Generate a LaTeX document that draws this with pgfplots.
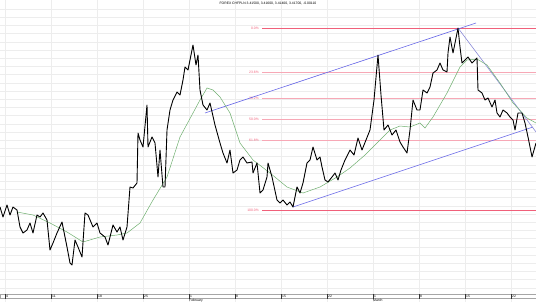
\documentclass[border=0pt]{standalone}
\usepackage{pgfplots}
\pgfplotsset{compat=1.18}
\usepackage{fontspec}
\setmainfont{Liberation Sans}
\definecolor{fibred}{HTML}{F0607A}
\definecolor{chanblue}{HTML}{6464E6}
\definecolor{trendblue}{HTML}{8C8CD8}
\definecolor{magreen}{HTML}{6FAF6F}
\newcommand{\tinyf}{\fontsize{3.4}{3.8}\selectfont}
\begin{document}
\begin{tikzpicture}
\begin{axis}[
  scale only axis, width=536bp, height=302bp,
  xmin=0, xmax=536, ymin=0, ymax=302, y dir=reverse,
  axis line style={draw=none}, tick style={draw=none},
  xtick={5,51,97,143,189,235,281,327,373,419,465,511},
  ytick={9,17.2,...,290},
  xticklabels={}, yticklabels={},
  grid=major, major grid style={gray!14, line width=0.4pt},
  clip=false,
]
% bottom band
\draw[gray!70, line width=0.4pt] (axis cs:0,294) rectangle (axis cs:536,298.5);
\pgfplotsinvokeforeach{5,51,97,143,189,235,281,327,373,419,465,511}{
  \draw[black!80, line width=0.6pt] (axis cs:#1,294) -- (axis cs:#1,298.5);
}
\node[anchor=west, inner sep=0pt, font=\tinyf] at (axis cs:6,296.3) {4};
\node[anchor=west, inner sep=0pt, font=\tinyf] at (axis cs:52,296.3) {11};
\node[anchor=west, inner sep=0pt, font=\tinyf] at (axis cs:98,296.3) {18};
\node[anchor=west, inner sep=0pt, font=\tinyf] at (axis cs:144,296.3) {25};
\node[anchor=west, inner sep=0pt, font=\tinyf] at (axis cs:190,296.3) {1};
\node[anchor=west, inner sep=0pt, font=\tinyf] at (axis cs:236,296.3) {8};
\node[anchor=west, inner sep=0pt, font=\tinyf] at (axis cs:282,296.3) {15};
\node[anchor=west, inner sep=0pt, font=\tinyf] at (axis cs:328,296.3) {22};
\node[anchor=west, inner sep=0pt, font=\tinyf] at (axis cs:374,296.3) {1};
\node[anchor=west, inner sep=0pt, font=\tinyf] at (axis cs:420,296.3) {8};
\node[anchor=west, inner sep=0pt, font=\tinyf] at (axis cs:466,296.3) {15};
\node[anchor=west, inner sep=0pt, font=\tinyf] at (axis cs:512,296.3) {22};
\node[anchor=north west, inner sep=0pt, font=\tinyf] at (axis cs:189,298.8) {February};
\node[anchor=north west, inner sep=0pt, font=\tinyf] at (axis cs:373,298.8) {March};
% title
\node[inner sep=0pt, font=\tinyf] at (axis cs:268,4) {FOREX CHFPLN 3.41500, 3.41600, 3.41400, 3.41700, -0.00110};
% fibonacci
\addplot[fibred, line width=0.6pt] coordinates {(262,28) (536,28)};
\addplot[fibred!55, line width=0.45pt] coordinates {(262,72) (536,72)};
\addplot[fibred!55, line width=0.45pt] coordinates {(262,98) (536,98)};
\addplot[fibred!55, line width=0.45pt] coordinates {(262,119) (536,119)};
\addplot[fibred!55, line width=0.45pt] coordinates {(262,140) (536,140)};
\addplot[fibred, line width=0.6pt] coordinates {(262,210) (536,210)};
\node[anchor=east, inner sep=0pt, font=\tinyf, text=fibred] at (axis cs:259,28) {0.0\%};
\node[anchor=east, inner sep=0pt, font=\tinyf, text=fibred] at (axis cs:259,72) {23.6\%};
\node[anchor=east, inner sep=0pt, font=\tinyf, text=fibred] at (axis cs:259,98) {38.2\%};
\node[anchor=east, inner sep=0pt, font=\tinyf, text=fibred] at (axis cs:259,119) {50.0\%};
\node[anchor=east, inner sep=0pt, font=\tinyf, text=fibred] at (axis cs:259,140) {61.8\%};
\node[anchor=east, inner sep=0pt, font=\tinyf, text=fibred] at (axis cs:259,210) {100.0\%};
% channel
\addplot[chanblue, line width=0.6pt] coordinates {(205,113) (476,23)};
\addplot[chanblue, line width=0.6pt] coordinates {(293,207) (533,127)};
\addplot[trendblue, line width=0.6pt] coordinates {(458,28) (536,132)};
% moving average
\addplot[magreen, line width=0.5pt] coordinates {
(17,212) (33,215) (50,223) (67,232) (83,242) (100,237) (117,235) (127,233)
(140,223) (153,200) (167,177) (180,137) (193,113) (200,100) (207,88) (213,90)
(220,97) (230,113) (240,143) (253,160) (270,173) (287,187) (303,193) (320,187)
(337,177) (350,168) (365,155) (380,140) (390,130) (400,126) (410,127) (420,123)
(425,128) (433,117) (447,93) (460,67) (467,60) (477,59) (487,65) (500,83)
(513,103) (527,118) (536,123)
};
% price
\addplot[black, line width=0.9pt, line join=round] coordinates {
(0,207) (3,217) (7,205) (10,215) (13,207) (17,210) (20,227) (23,233) (27,230)
(30,223) (33,233) (37,215) (40,217) (43,213) (47,220) (50,250) (53,243) (57,233)
(62,222) (67,247) (70,263) (72,265) (75,240) (78,247) (82,257) (85,213) (88,215)
(93,227) (97,223) (100,233) (105,237) (108,245) (113,225) (117,232) (120,227)
(123,240) (127,227) (130,187) (133,188) (137,183) (138,133) (140,140) (143,147)
(147,105) (148,147) (152,137) (155,143) (158,177) (160,150) (163,187) (165,187)
(167,130) (170,110) (173,100) (177,92) (180,95) (183,80) (185,67) (188,70)
(190,60) (193,45) (196,65) (198,55) (200,90) (203,105) (207,110) (210,103)
(215,125) (220,143) (223,153) (227,163) (230,150) (233,173) (237,170) (240,160)
(243,157) (247,163) (252,162) (253,173) (257,163) (260,193) (263,190) (267,177)
(268,163) (272,177) (277,200) (280,203) (283,200) (287,205) (290,202) (293,207)
(297,187) (300,193) (303,183) (307,163) (310,160) (313,147) (317,160) (320,157)
(322,167) (325,180) (328,182) (332,177) (335,173) (338,180) (341,170) (345,160)
(350,150) (354,155) (358,138) (362,150) (366,140) (370,130) (374,100) (378,55)
(381,95) (384,130) (388,125) (392,135) (396,130) (400,142) (403,147) (407,153)
(410,130) (413,100) (417,110) (420,110) (423,90) (427,93) (430,87) (433,73)
(437,70) (440,63) (443,70) (447,72) (448,53) (450,37) (453,53) (457,33) (458,28)
(460,47) (462,63) (465,60) (468,57) (472,63) (477,58) (478,90) (482,93) (485,100)
(488,98) (492,107) (495,100) (497,113) (500,117) (503,110) (507,113) (510,117)
(513,120) (515,130) (518,113) (522,113) (525,123) (528,137) (532,157) (536,143)
};
\end{axis}
\pgfresetboundingbox
\useasboundingbox (current axis.south west) rectangle (current axis.north east);
\end{tikzpicture}
\end{document}
